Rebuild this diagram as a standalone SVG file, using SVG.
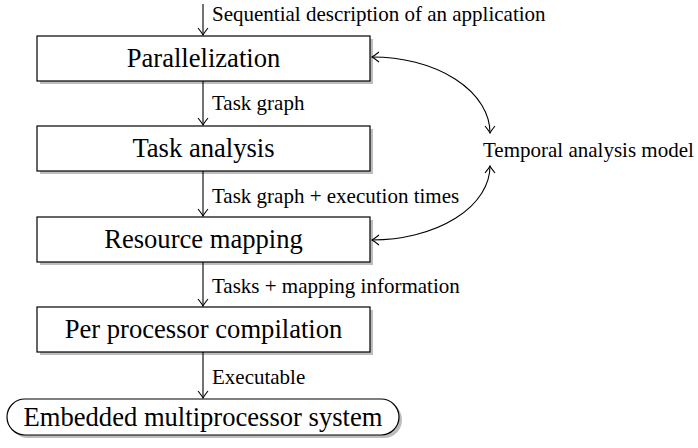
<svg xmlns="http://www.w3.org/2000/svg" width="698" height="448" viewBox="0 0 698 448">
<style>
.box{fill:#fff;stroke:#000;stroke-width:1.2}
.sh{fill:#bdbdbd}
.big{font-size:26.6px;text-anchor:middle}
.lbl{font-size:21px}
.c{fill:none;stroke:#000;stroke-width:1.1}
</style>
<defs>
<marker id="ah" viewBox="-8 -6 10 12" markerWidth="10" markerHeight="12" refX="0" refY="0" orient="auto-start-reverse" markerUnits="userSpaceOnUse">
<path d="M-7,-5 Q-2,-1 0,0 Q-2,1 -7,5" fill="none" stroke="#000" stroke-width="1.1"/>
</marker>
</defs>
<rect width="698" height="448" fill="#fff"/>
<g font-family="'Liberation Serif', 'Times New Roman', 'DejaVu Serif', serif">
<g id="n1"><rect class="sh" x="40" y="39" width="333" height="45"/><rect class="box" x="37" y="36" width="333" height="45"/><text class="big" x="203.5" y="67">Parallelization</text></g>
<g id="n2"><rect class="sh" x="40" y="129" width="333" height="45"/><rect class="box" x="37" y="126" width="333" height="45"/><text class="big" x="203.5" y="157">Task analysis</text></g>
<g id="n3"><rect class="sh" x="40" y="220" width="333" height="45"/><rect class="box" x="37" y="217" width="333" height="45"/><text class="big" x="203.5" y="248">Resource mapping</text></g>
<g id="n4"><rect class="sh" x="40" y="310" width="333" height="45"/><rect class="box" x="37" y="307" width="333" height="45"/><text class="big" x="203.5" y="338">Per processor compilation</text></g>
<g id="n5"><rect class="sh" x="10" y="402" width="392" height="36" rx="18"/><rect class="box" x="7" y="399" width="392" height="36" rx="18"/><text class="big" x="203" y="426">Embedded multiprocessor system</text></g>
<g id="n6"><text class="lbl" x="483" y="157">Temporal analysis model</text></g>
<g id="connectors">
<line class="c" x1="203" y1="4" x2="203" y2="35" marker-end="url(#ah)"/>
<line class="c" x1="203" y1="81" x2="203" y2="125" marker-end="url(#ah)"/>
<line class="c" x1="203" y1="171" x2="203" y2="216" marker-end="url(#ah)"/>
<line class="c" x1="203" y1="262" x2="203" y2="306" marker-end="url(#ah)"/>
<line class="c" x1="203" y1="352" x2="203" y2="398" marker-end="url(#ah)"/>
<path class="c" d="M372,57 A118,76 0 0 1 490,133" marker-start="url(#ah)" marker-end="url(#ah)"/>
<path class="c" d="M490,166 A118,74 0 0 1 372,240" marker-start="url(#ah)" marker-end="url(#ah)"/>
<text class="lbl" x="212" y="21">Sequential description of an application</text>
<text class="lbl" x="212" y="110">Task graph</text>
<text class="lbl" x="212" y="203">Task graph + execution times</text>
<text class="lbl" x="212" y="293">Tasks + mapping information</text>
<text class="lbl" x="212" y="384">Executable</text>
</g>
</g>
</svg>
